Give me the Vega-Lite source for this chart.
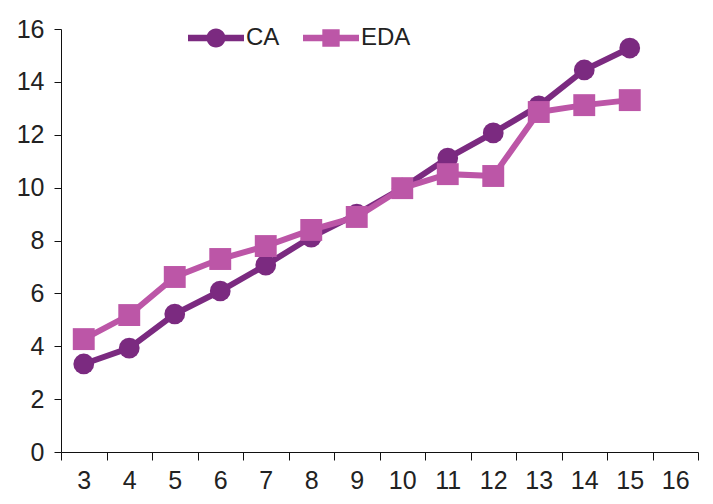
{
  "$schema": "https://vega.github.io/schema/vega-lite/v6.json",
  "width": 637,
  "height": 423,
  "autosize": {"type": "none"},
  "padding": {"left": 61, "top": 29, "right": 15, "bottom": 52},
  "background": "white",
  "config": {
    "view": {"stroke": null},
    "font": "Liberation Sans",
    "axis": {"labelFont": "Liberation Sans", "labelFontSize": 25, "labelColor": "#222", "domainColor": "#111", "tickColor": "#111", "grid": false, "title": null}
  },
  "data": {
    "values": [
      {"age": "3", "series": "CA", "value": 3.33},
      {"age": "4", "series": "CA", "value": 3.93},
      {"age": "5", "series": "CA", "value": 5.22},
      {"age": "6", "series": "CA", "value": 6.09},
      {"age": "7", "series": "CA", "value": 7.07},
      {"age": "8", "series": "CA", "value": 8.13},
      {"age": "9", "series": "CA", "value": 9.0},
      {"age": "10", "series": "CA", "value": 9.98},
      {"age": "11", "series": "CA", "value": 11.12},
      {"age": "12", "series": "CA", "value": 12.07},
      {"age": "13", "series": "CA", "value": 13.09},
      {"age": "14", "series": "CA", "value": 14.45},
      {"age": "15", "series": "CA", "value": 15.28},
      {"age": "3", "series": "EDA", "value": 4.27},
      {"age": "4", "series": "EDA", "value": 5.18},
      {"age": "5", "series": "EDA", "value": 6.62},
      {"age": "6", "series": "EDA", "value": 7.3},
      {"age": "7", "series": "EDA", "value": 7.79},
      {"age": "8", "series": "EDA", "value": 8.4},
      {"age": "9", "series": "EDA", "value": 8.89},
      {"age": "10", "series": "EDA", "value": 9.98},
      {"age": "11", "series": "EDA", "value": 10.51},
      {"age": "12", "series": "EDA", "value": 10.44},
      {"age": "13", "series": "EDA", "value": 12.86},
      {"age": "14", "series": "EDA", "value": 13.12},
      {"age": "15", "series": "EDA", "value": 13.31}
    ]
  },
  "encoding": {
    "x": {
      "field": "age",
      "type": "ordinal",
      "bandPosition": 0.5,
      "sort": null,
      "scale": {"type": "band", "domain": ["3","4","5","6","7","8","9","10","11","12","13","14","15","16"], "paddingInner": 0, "paddingOuter": 0},
      "axis": {"labelAngle": 0, "labelFontSize": 25, "tickBand": "extent", "tickSize": 8, "labelPadding": 8, "domainWidth": 1, "tickWidth": 1}
    },
    "y": {
      "field": "value",
      "type": "quantitative",
      "scale": {"domain": [0, 16], "nice": false, "zero": true},
      "axis": {"values": [0, 2, 4, 6, 8, 10, 12, 14, 16], "labelFontSize": 25, "tickSize": 7, "labelPadding": 10, "domainWidth": 1, "tickWidth": 1}
    },
    "color": {
      "field": "series",
      "type": "nominal",
      "scale": {"domain": ["CA", "EDA"], "range": ["#7B2A80", "#BC56A7"]},
      "legend": {
        "orient": "none",
        "legendX": 127,
        "legendY": -19,
        "direction": "horizontal",
        "title": null,
        "labelFontSize": 24,
        "labelColor": "#222",
        "labelOffset": 2,
        "columnPadding": 23,
        "symbolSize": 3136,
        "symbolStrokeWidth": 0,
        "symbolOpacity": 1,
        "encode": {
          "symbols": {
            "update": {
              "shape": {"signal": "datum.value === 'CA' ? 'M-1,-0.12L1,-0.12L1,0.12L-1,0.12Z M0.34,0A0.34,0.34 0 1,1 -0.34,0A0.34,0.34 0 1,1 0.34,0Z' : 'M-1,-0.12L1,-0.12L1,0.12L-1,0.12Z M-0.31,-0.31L0.31,-0.31L0.31,0.31L-0.31,0.31Z'"},
              "size": {"value": 3136},
              "fill": {"signal": "scale('color', datum.value)"},
              "strokeWidth": {"value": 0}
            }
          }
        }
      }
    }
  },
  "layer": [
    {
      "mark": {"type": "line", "strokeWidth": 6},
      "encoding": {"detail": {"field": "series"}}
    },
    {
      "transform": [{"filter": "datum.series === 'CA'"}],
      "mark": {"type": "point", "shape": "circle", "filled": true, "opacity": 1, "size": 430}
    },
    {
      "transform": [{"filter": "datum.series === 'EDA'"}],
      "mark": {"type": "point", "shape": "square", "filled": true, "opacity": 1, "size": 480}
    }
  ]
}
